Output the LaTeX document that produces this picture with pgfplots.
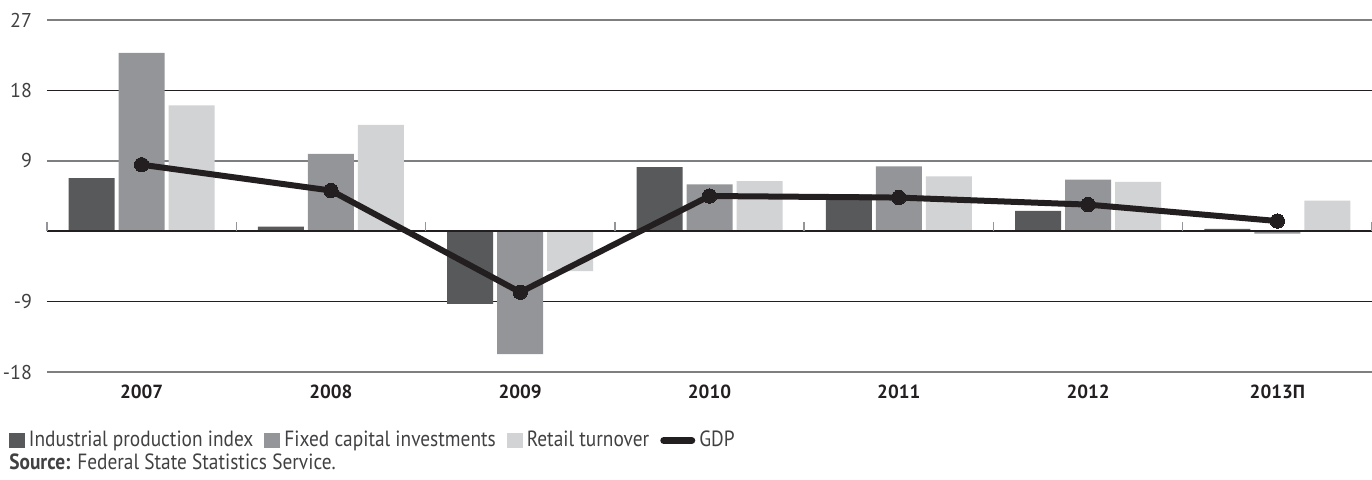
\documentclass[border=0pt]{standalone}
\usepackage{pgfplots}
\pgfplotsset{compat=1.18}
\usepackage{fontspec}
\setmainfont{PT Sans}
\newfontfamily\condfont[FakeStretch=0.88]{PT Sans}
\definecolor{c1}{HTML}{58595B}
\definecolor{c2}{HTML}{939598}
\definecolor{c3}{HTML}{D1D3D4}
\definecolor{c4}{HTML}{231F20}
\definecolor{txt}{HTML}{414042}
\begin{document}
\begin{tikzpicture}[x=1pt,y=1pt]
\begin{axis}[
  at={(23.5pt,53.5pt)}, anchor=south west,
  scale only axis, width=662.5pt, height=176pt,
  xmin=-0.5, xmax=6.5, ymin=-18, ymax=27,
  xtick={0,1,2,3,4,5,6},
  xticklabels={2007,2008,2009,2010,2011,2012,2013П},
  ytick={-18,9,27},
  extra y ticks={-9,18},
  extra y tick style={grid style={c4, line width=0.5pt}},
  axis line style={draw=none},
  major tick length=0pt,
  ymajorgrids,
  grid style={c2!85!black, line width=0.7pt},
  /pgf/number format/assume math mode=true,
  xticklabel style={font=\fontsize{9.5}{11}\selectfont\bfseries, text=c4, yshift=-3pt},
  yticklabel style={font=\fontsize{10}{12}\selectfont, text=txt, xshift=-4pt},
  legend style={at={(-0.0287,-0.168)}, anchor=north west, draw=none, fill=none,
    inner sep=0pt, outer sep=0pt, nodes={inner sep=0pt},
    font=\condfont\fontsize{11}{12}\selectfont, text=txt,
    /tikz/every odd column/.append style={column sep=2pt},
    /tikz/every even column/.append style={column sep=5.5pt}},
  legend columns=4,
  legend cell align=left,
  clip=false,
]
\addplot[ybar, bar width=23pt, bar shift=-25pt, fill=c1, draw=none,
  legend image code/.code={\fill[c1] (0pt,-3.75pt) rectangle (8pt,3.75pt);}]
  coordinates {(0,6.8) (1,0.6) (2,-9.3) (3,8.2) (4,4.7) (5,2.6) (6,0.3)};
\addlegendentry{Industrial production index}
\addplot[ybar, bar width=23pt, bar shift=0pt, fill=c2, draw=none,
  legend image code/.code={\fill[c2] (0pt,-3.75pt) rectangle (8pt,3.75pt);}]
  coordinates {(0,22.8) (1,9.9) (2,-15.7) (3,6.0) (4,8.3) (5,6.6) (6,-0.3)};
\addlegendentry{Fixed capital investments}
\addplot[ybar, bar width=23pt, bar shift=25pt, fill=c3, draw=none,
  legend image code/.code={\fill[c3] (0pt,-3.75pt) rectangle (8pt,3.75pt);}]
  coordinates {(0,16.1) (1,13.6) (2,-5.1) (3,6.4) (4,7.0) (5,6.3) (6,3.9)};
\addlegendentry{Retail turnover}
\draw[c4, line width=1pt] (axis cs:-0.5,0) -- (axis cs:6.5,0);
\pgfplotsinvokeforeach{-0.5,0.5,1.5,2.5,3.5,4.5,5.5,6.5}{
  \draw[c2, line width=0.7pt] (axis cs:#1,0) -- ([yshift=4.5pt]axis cs:#1,0);
}
\addplot[c4, line width=3pt, mark=*, mark size=3.6pt, mark options={fill=c4, draw=c4, line width=0pt},
  legend image code/.code={\draw[c4, line width=3.5pt, line cap=round] (1.75pt,0pt) -- (15.75pt,0pt);}]
  coordinates {(0,8.5) (1,5.2) (2,-7.8) (3,4.5) (4,4.3) (5,3.4) (6,1.3)};
\addlegendentry{GDP}
\end{axis}
\node[anchor=west, inner sep=0pt, text=txt, font=\condfont\fontsize{11}{12}\selectfont] at (4.5pt,8.5pt) {\textbf{Source:} Federal State Statistics Service.};
\pgfresetboundingbox
\path (0,0) rectangle (686pt,239.5pt);
\end{tikzpicture}
\end{document}
